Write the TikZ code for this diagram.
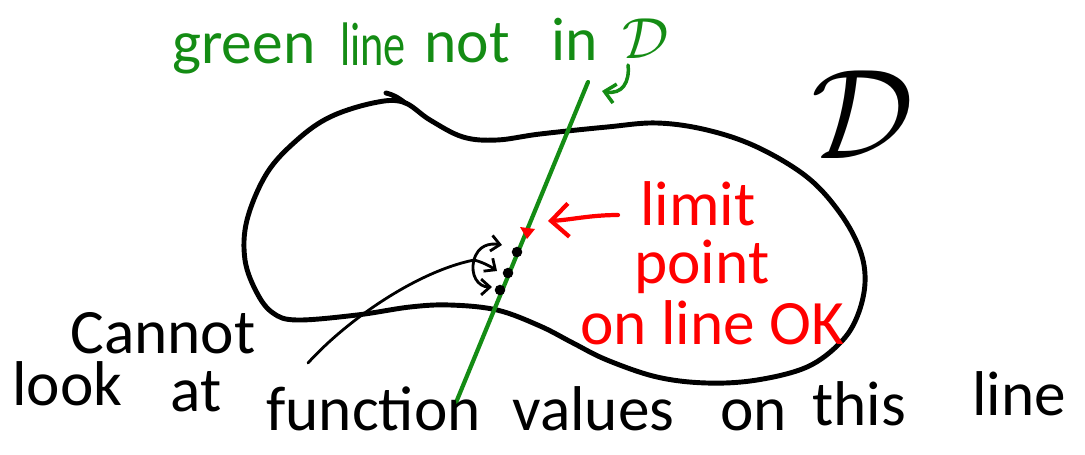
\documentclass[tikz,border=0pt]{standalone}
\usepackage{fontspec}
\setmainfont{Carlito}
\usetikzlibrary{arrows.meta}
\definecolor{gline}{RGB}{20,140,20}
\definecolor{rtext}{RGB}{255,0,0}
\tikzset{
  hand/.style={inner sep=0pt, anchor=base west, font=\fontsize{36}{40}\selectfont},
  redhand/.style={hand, text=rtext, font=\fontsize{36}{40}\selectfont},
  greenhand/.style={hand, text=gline, font=\fontsize{35}{40}\selectfont},
  blackhand/.style={hand, text=black},
  outline/.style={line width=2.8pt, line cap=round, line join=round},
  thin/.style={line width=1.6pt, line cap=round, line join=round},
  barb/.style={-{Straight Barb[length=5pt,width=9pt,line width=1.6pt]}},
  dot/.style={circle, fill=black, inner sep=0pt, minimum size=6pt},
}
\begin{document}
\begin{tikzpicture}[x=0.02cm,y=-0.02cm]
\useasboundingbox (0,0) rectangle (1085,454);

% region D
\draw[outline] plot[smooth cycle, tension=0.6] coordinates {
 (403,102) (430,120) (463,137) (497,140) (540,134) (607,127) (657,123)
 (707,130) (757,147) (807,177) (840,213) (860,250) (865,283) (857,317)
 (840,343) (807,367) (757,380) (707,383) (657,377) (607,360) (573,343)
 (540,326) (497,310) (450,305) (410,307) (357,315) (297,320) (273,313)
 (257,293) (245,260) (247,220) (267,173) (297,140) (330,117) (373,103)};
\draw[outline] (386,93) .. controls (394,95) and (399,98) .. (405,103);

\node[inner sep=0pt] (bigD) at (863,115) {\scalebox{7.3}{$\mathcal{D}$}};

% green line
\coordinate (gtop) at (588,82);
\coordinate (gbot) at (455,405);
\draw[gline, line width=2.4pt, line cap=round] (gtop) -- (gbot);

% green label
\node[greenhand] (tg1) at (172,63) {green};
\node[greenhand] (tg2) at (340,65) {\scalebox{0.72}[1]{line}};
\node[greenhand] (tg3) at (424,62) {not};
\node[greenhand] (tg4) at (551,60) {in};
\node[inner sep=0pt, text=gline] (tgD) at (646,39) {\scalebox{3.3}{$\mathcal{D}$}};
\coordinate (ga0) at (628,65);
\coordinate (ga1) at (602,91);
\draw[gline, line width=2pt, line cap=round, -{Straight Barb[length=6pt,width=11pt,line width=2pt]}] (ga0) .. controls (630,82) and (622,95) .. (ga1);

% points on the line
\node[dot] (d1) at (517,252) {};
\node[dot] (d2) at (508,273) {};
\node[dot] (d3) at (500,290) {};
\fill[rtext] (520,227) -- (535,229) -- (527,239) -- cycle;
\coordinate (lp) at (527,232);

% red label
\node[redhand] (r1) at (640,225) {limit};
\node[redhand] (r2) at (634,283) {point};
\node[redhand] (r3) at (580,344) {on line OK};
\coordinate (ra0) at (618,215);
\coordinate (ra1) at (548,221);
\draw[rtext, line width=2.4pt, line cap=round, -{Straight Barb[length=10pt,width=19pt,line width=2.4pt]}] (ra0) .. controls (590,215) and (570,220) .. (ra1);

% black label and pointer
\node[blackhand] (c1) at (70,353) {Cannot};
\node[blackhand] (b1) at (12,405) {look};
\node[blackhand] (b2) at (170,411) {at};
\node[blackhand] (b3) at (266,430) {function};
\node[blackhand] (b4) at (512,430) {values};
\node[blackhand] (b5) at (720,430) {on};
\node[blackhand] (b6) at (812,425) {this};
\node[blackhand] (b7) at (972,415) {line};

\coordinate (ps) at (308,363);
\coordinate (fan) at (474,260);
\draw[thin] (ps) .. controls (345,322) and (415,272) .. (fan);
\draw[thin, barb] (fan) .. controls (478,245) and (490,243) .. (502,245);
\draw[thin, barb] (fan) .. controls (482,262) and (490,266) .. (497,271);
\draw[thin, barb] (fan) .. controls (470,275) and (478,287) .. (492,287);
\end{tikzpicture}
\end{document}
